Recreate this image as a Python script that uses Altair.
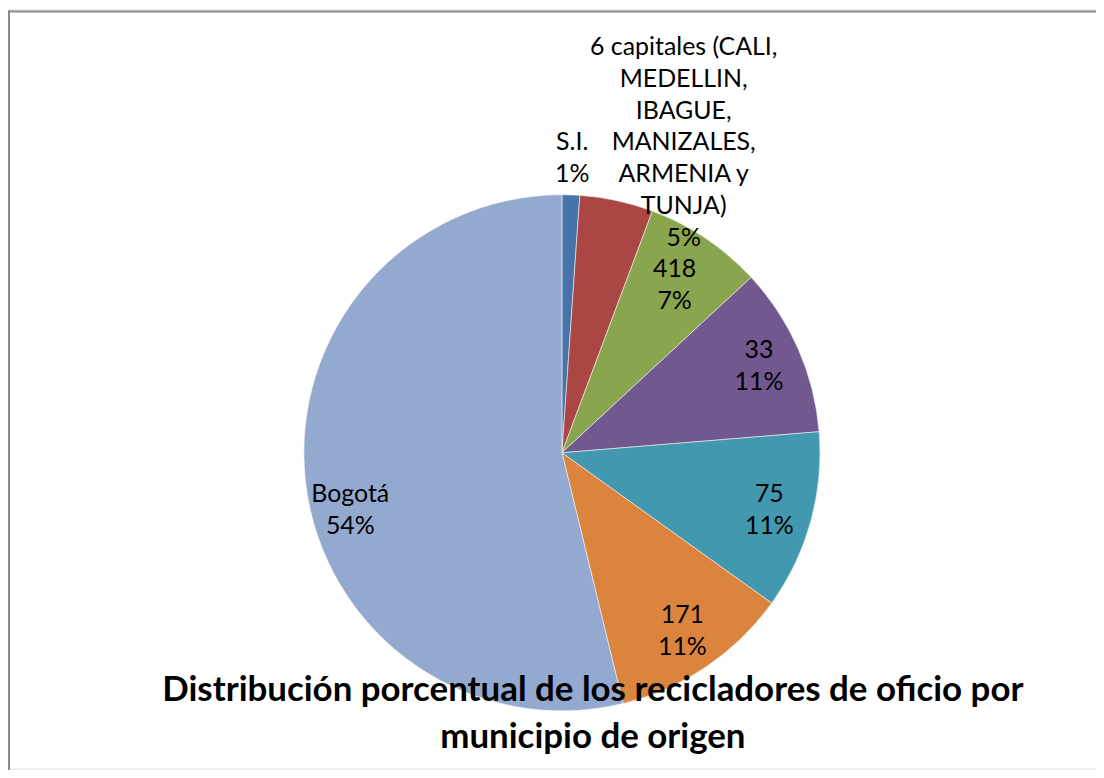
import altair as alt
import pandas as pd

# ---- data ----
names = ["S.I.", "6 capitales", "418", "33", "75", "171", "Bogotá"]
shares = [1.1, 4.6, 7.4, 10.6, 11.2, 11.3, 53.8]
pct_labels = ["1%", "5%", "7%", "11%", "11%", "11%", "54%"]
cap_lines = ["6 capitales (CALI,", "MEDELLIN,", "IBAGUE,", "MANIZALES,", "ARMENIA y", "TUNJA)"]
colors = ["#4674AA", "#AA4643", "#89A54E", "#71588F", "#4198AF", "#DB843D", "#93A9CF"]
title_lines = ["Distribución porcentual de los recicladores de oficio por", "municipio de origen"]

name_text = {n: n for n in names}
name_text["6 capitales"] = "\n".join(cap_lines)

df = pd.DataFrame({
    "name": names,
    "share": shares,
    "order": list(range(len(names))),
    "label": [name_text[n] + "\n" + p for n, p in zip(names, pct_labels)],
})

W, H = 1092, 762
CX, CY = 556, 445
R = 259
LH = 32

color = alt.Color("name:N", scale=alt.Scale(domain=names, range=colors), legend=None)

base = alt.Chart(df)

pie = base.mark_arc(outerRadius=R, stroke="#f4f4f4", strokeWidth=0.6).encode(
    theta=alt.Theta("share:Q", stack=True, scale=alt.Scale(domain=[0, 100])),
    order=alt.Order("order:Q"),
    color=color,
    x=alt.value(CX),
    y=alt.value(CY),
)

def label_layer(filter_names, radius, nlines=2, dx=0, dy=0):
    return (
        base.transform_window(cum="sum(share)", sort=[alt.SortField("order")])
        .transform_calculate(mid="datum.cum - datum.share / 2")
        .transform_filter(alt.FieldOneOfPredicate(field="name", oneOf=filter_names))
        .mark_text(radius=radius, dx=dx, dy=dy - (nlines - 1) * LH / 2, font="Lato",
                   fontSize=25, lineBreak="\n", lineHeight=LH, align="center",
                   baseline="middle", color="#000000")
        .encode(
            theta=alt.Theta("mid:Q", stack=None, scale=alt.Scale(domain=[0, 100])),
            text="label:N",
            x=alt.value(CX),
            y=alt.value(CY),
        )
    )

inner = label_layer(["33", "75", "171"], 216)
g418 = label_layer(["418"], 203)
si = label_layer(["S.I."], 296)
cap = label_layer(["6 capitales"], 331, nlines=7, dx=52, dy=12)
bog = label_layer(["Bogotá"], 219, dx=5, dy=31)

title = base.transform_filter("datum.order == 0").mark_text(
    font="Lato", fontSize=35, fontWeight="bold", lineBreak="\n", lineHeight=47,
    align="center", baseline="middle", color="#000000"
).encode(
    text=alt.value("\n".join(title_lines)),
    x=alt.value(587),
    y=alt.value(683),
)

one = base.transform_filter("datum.order == 0")
border_top = one.mark_rule(stroke="#8a8a8a", strokeWidth=2).encode(
    x=alt.value(0), x2=alt.value(W + 50), y=alt.value(2)
)
border_left = one.mark_rule(stroke="#8a8a8a", strokeWidth=2).encode(
    x=alt.value(1), y=alt.value(1), y2=alt.value(H + 50)
)

chart = alt.layer(border_top, border_left, pie, inner, g418, si, cap, bog, title).properties(
    width=W, height=H, autosize="none", padding=0
).configure_view(stroke=None).configure(background="white")

chart.save("out.html", embed_options={"renderer": "svg", "actions": False})
